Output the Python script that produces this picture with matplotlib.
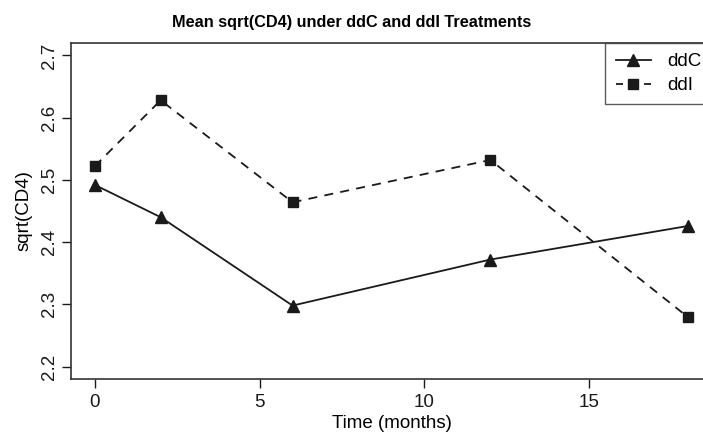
import matplotlib
matplotlib.use('Agg')
import matplotlib.pyplot as plt
from matplotlib.lines import Line2D

months = [0, 2, 6, 12, 18]
ddc_mean = [2.492, 2.440, 2.298, 2.372, 2.426]
ddi_mean = [2.522, 2.628, 2.464, 2.532, 2.279]
xticks = [0, 5, 10, 15]
yticks = [2.2, 2.3, 2.4, 2.5, 2.6, 2.7]

plt.rcParams['font.family'] = ['Liberation Sans', 'DejaVu Sans']

fig = plt.figure(figsize=(7.03, 4.36), dpi=100)
# plot region runs a little past the right edge, like the cropped original
ax = fig.add_axes([71 / 703, 57 / 436, 641 / 703, 336 / 436])

ax.plot(months, ddc_mean, color='#1a1a1a', lw=1.3, marker='^', ms=8)
ax.plot(months, ddi_mean, color='#1a1a1a', lw=1.3, ls=(0, (5, 4)),
        marker='s', ms=6.5)

ax.set_xlim(-0.72, 18.72)
ax.set_ylim(2.18, 2.72)
ax.set_xticks(xticks)
ax.set_yticks(yticks)
ax.set_yticklabels([f'{v:.1f}' for v in yticks], rotation=90, va='center')
ax.tick_params(direction='out', length=6.5, width=1, labelsize=13.5, colors='#1a1a1a')
ax.tick_params(axis='x', pad=4)
ax.tick_params(axis='y', pad=3)

for s in ['left', 'top', 'bottom']:
    ax.spines[s].set_linewidth(1.2)
    ax.spines[s].set_color('#333333')
ax.spines['right'].set_visible(False)

ax.set_xlabel('Time (months)', fontsize=13.5, labelpad=3)
ax.set_ylabel('sqrt(CD4)', fontsize=13.5, labelpad=6)
fig.text(0.5, 1 - 27 / 436, 'Mean sqrt(CD4) under ddC and ddI Treatments',
         ha='center', va='baseline', fontsize=11.7, fontweight='bold')

# legend keys drawn R-style: dash, marker, dash
handles = [
    Line2D([], [], color='#1a1a1a', lw=1.3, marker='^', ms=8),
    Line2D([], [], color='#1a1a1a', lw=1.3, ls=(0, (3.88, 3.88)),
           marker='s', ms=6.5),
]
leg = ax.legend(handles, ['ddC', 'ddI'], loc='upper right', fontsize=13.5,
                frameon=True, fancybox=False, borderaxespad=0,
                handlelength=1.87, handletextpad=0.9,
                borderpad=0.55, labelspacing=0.35)
leg.get_frame().set_edgecolor('#333333')
leg.get_frame().set_linewidth(1.0)

fig.savefig('out.png', dpi=100)
